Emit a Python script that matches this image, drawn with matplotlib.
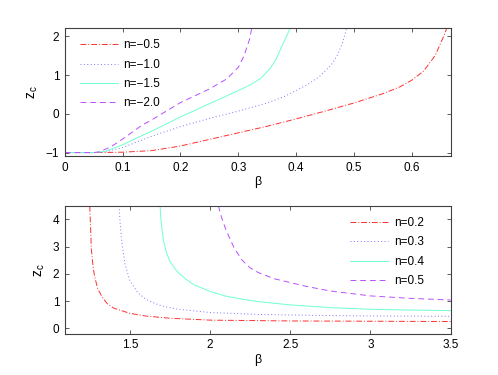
import matplotlib
matplotlib.use('Agg')
import matplotlib.pyplot as plt

plt.rcParams['font.family'] = ['Liberation Sans', 'DejaVu Sans']
plt.rcParams['mathtext.fontset'] = 'custom'
plt.rcParams['mathtext.rm'] = 'Liberation Sans'
plt.rcParams['mathtext.it'] = 'Liberation Sans'

# upper panel, n < 0
neg_labels = ['n=\u22120.5', 'n=\u22121.0', 'n=\u22121.5', 'n=\u22122.0']
beta_a = [0, 0.05, 0.1, 0.15, 0.2, 0.25, 0.3, 0.35, 0.4, 0.45, 0.5, 0.55, 0.58, 0.6, 0.62, 0.64, 0.655, 0.66]
z_a = [-1, -1, -0.99, -0.95, -0.83, -0.66, -0.49, -0.32, -0.13, 0.07, 0.28, 0.52, 0.7, 0.87, 1.1, 1.5, 2.0, 2.2]
beta_b = [0, 0.05, 0.07, 0.1, 0.15, 0.2, 0.25, 0.3, 0.35, 0.38, 0.4, 0.42, 0.44, 0.46, 0.47, 0.48, 0.487]
z_b = [-1, -1, -0.98, -0.87, -0.58, -0.33, -0.12, 0.07, 0.28, 0.45, 0.6, 0.76, 0.96, 1.25, 1.48, 1.82, 2.2]
beta_c = [0, 0.05, 0.07, 0.1, 0.125, 0.15, 0.2, 0.25, 0.3, 0.32, 0.34, 0.355, 0.365, 0.377, 0.385, 0.389]
z_c = [-1, -1, -0.97, -0.8, -0.62, -0.45, -0.08, 0.26, 0.6, 0.74, 0.93, 1.17, 1.4, 1.8, 2.05, 2.2]
beta_d = [0, 0.05, 0.06, 0.08, 0.1, 0.135, 0.15, 0.2, 0.25, 0.28, 0.3, 0.31, 0.32, 0.323]
z_d = [-1, -1, -0.98, -0.85, -0.65, -0.28, -0.16, 0.29, 0.64, 0.9, 1.2, 1.5, 1.95, 2.2]

# lower panel, n > 0
pos_labels = ['n=0.2', 'n=0.3', 'n=0.4', 'n=0.5']
beta_e = [1.25, 1.255, 1.26, 1.27, 1.28, 1.3, 1.33, 1.36, 1.4, 1.5, 1.6, 1.75, 2.0, 2.5, 3.0, 3.5]
z_e = [4.5, 3.7, 2.9, 2.3, 1.9, 1.45, 1.12, 0.9, 0.74, 0.55, 0.45, 0.37, 0.3, 0.27, 0.26, 0.25]
beta_f = [1.433, 1.44, 1.45, 1.47, 1.5, 1.55, 1.6, 1.65, 1.7, 1.8, 2.0, 2.3, 2.7, 3.1, 3.5]
z_f = [4.5, 3.8, 3.15, 2.35, 1.75, 1.3, 1.07, 0.93, 0.82, 0.7, 0.58, 0.51, 0.47, 0.45, 0.44]
beta_g = [1.688, 1.695, 1.71, 1.73, 1.75, 1.78, 1.8, 1.85, 1.9, 2.0, 2.1, 2.2, 2.3, 2.5, 2.75, 3.0, 3.25, 3.5]
z_g = [4.5, 3.9, 3.2, 2.75, 2.45, 2.2, 2.05, 1.8, 1.6, 1.35, 1.18, 1.07, 0.98, 0.86, 0.76, 0.7, 0.67, 0.65]
beta_h = [2.052, 2.07, 2.1, 2.15, 2.2, 2.25, 2.3, 2.4, 2.5, 2.6, 2.75, 3.0, 3.25, 3.5]
z_h = [4.5, 4.1, 3.6, 2.95, 2.5, 2.22, 2.05, 1.82, 1.68, 1.54, 1.37, 1.19, 1.1, 1.04]

colors = ['#ff3030', '#7878ff', '#70ffd0', '#b850ff']
styles = [(0, (6, 2, 1, 2)), (0, (1, 2.5)), '-', (0, (6, 4))]


def style_axes(ax):
    for s in ax.spines.values():
        s.set_color('#404040')
        s.set_linewidth(0.8)
    ax.tick_params(direction='in', top=True, right=True, length=3, width=0.6,
                   labelsize=8.5, colors='#404040', labelcolor='black', pad=4)
    ax.set_xlabel('\u03b2', fontsize=9, labelpad=2)
    ax.set_ylabel('$\\mathregular{z_c}$', fontsize=10, labelpad=4)


fig = plt.figure(figsize=(4.98, 3.75), dpi=100)

ax1 = fig.add_axes([0.13, 0.5838, 0.775, 0.3412])
for bx, zy, lab, col, ls in zip([beta_a, beta_b, beta_c, beta_d], [z_a, z_b, z_c, z_d],
                                neg_labels, colors, styles):
    ax1.plot(bx, zy, color=col, linestyle=ls, linewidth=0.7, label=lab)
ax1.set_xlim(0, 0.667)
ax1.set_ylim(-1.09, 2.21)
ax1.set_xticks([0, 0.1, 0.2, 0.3, 0.4, 0.5, 0.6])
ax1.set_xticklabels(['0', '0.1', '0.2', '0.3', '0.4', '0.5', '0.6'])
ax1.set_yticks([-1, 0, 1, 2])
ax1.set_yticklabels(['\u22121', '0', '1', '2'])
style_axes(ax1)
ax1.legend(loc='upper left', frameon=False, fontsize=8.5, handlelength=3.2,
           handletextpad=0.5, labelspacing=0.62, borderaxespad=0.4,
           bbox_to_anchor=(0.015, 0.985))

ax2 = fig.add_axes([0.13, 0.11, 0.775, 0.3412])
for bx, zy, lab, col, ls in zip([beta_e, beta_f, beta_g, beta_h], [z_e, z_f, z_g, z_h],
                                pos_labels, colors, styles):
    ax2.plot(bx, zy, color=col, linestyle=ls, linewidth=0.7, label=lab)
ax2.set_xlim(1.094, 3.5)
ax2.set_ylim(-0.2, 4.5)
ax2.set_xticks([1.5, 2, 2.5, 3, 3.5])
ax2.set_xticklabels(['1.5', '2', '2.5', '3', '3.5'])
ax2.set_yticks([0, 1, 2, 3, 4])
style_axes(ax2)
ax2.legend(loc='upper right', frameon=False, fontsize=8.5, handlelength=3.2,
           handletextpad=0.5, labelspacing=0.62, borderaxespad=0.4,
           bbox_to_anchor=(0.955, 0.985))

fig.savefig('out.png', dpi=100)
